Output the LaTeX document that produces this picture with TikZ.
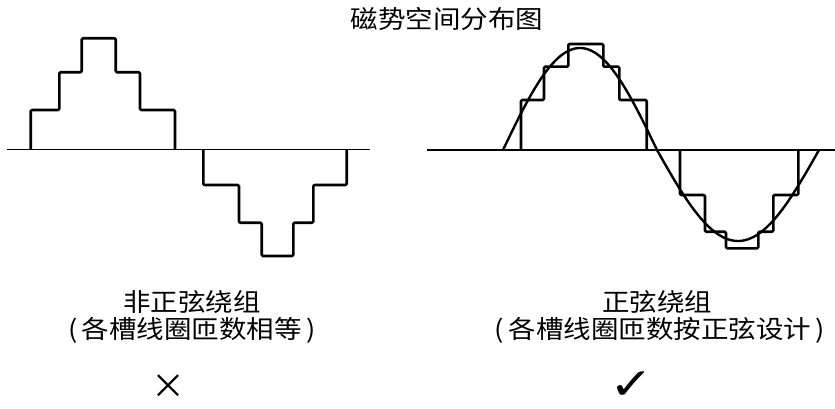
\documentclass[tikz,border=0pt]{standalone}
\usepackage{fontspec}
\newfontfamily\cjk{Noto Sans CJK SC}
\newfontfamily\sym{DejaVu Sans}
\begin{document}
\begin{tikzpicture}[x=1pt,y=-1pt,
  axisline/.style={line width=1.4pt},
  stepline/.style={line width=2.6pt,rounded corners=1.2pt,line join=round},
  sineline/.style={line width=2.4pt,line cap=round},
  cjktext/.style={font=\cjk\fontsize{25}{25}\selectfont,inner sep=0pt,xscale=1.1},
  marktext/.style={font=\cjk\fontsize{34}{34}\selectfont,inner sep=0pt},
  checktext/.style={font=\sym\fontsize{44}{44}\selectfont,inner sep=0pt,xscale=1.2}]
\useasboundingbox (0,0) rectangle (835,409);
% title
\node[cjktext] (title) at (447,19) {磁势空间分布图};
% left diagram
\coordinate (la) at (7,149.5);
\coordinate (lb) at (370,149.5);
\draw[axisline] (la) -- (lb);
\draw[stepline] (30.7,149.5) -- (30.7,110) -- (59.3,110) -- (59.3,72.3) -- (81.7,72.3) -- (81.7,38.3)
  -- (115.7,38.3) -- (115.7,72.3) -- (140,72.3) -- (140,110) -- (175,110) -- (175,149.5);
\draw[stepline] (203.3,149.5) -- (203.3,185) -- (239,185) -- (239,222.7) -- (261.7,222.7) -- (261.7,256)
  -- (293.3,256) -- (293.3,222.7) -- (313.3,222.7) -- (313.3,185) -- (346.7,185) -- (346.7,149.5);
% right diagram
\coordinate (ra) at (427,150);
\coordinate (rb) at (835,150);
\draw[axisline] (ra) -- (rb);
\draw[stepline] (521,150) -- (521,100) -- (544,100) -- (544,66.7) -- (568.3,66.7) -- (568.3,44)
  -- (603.3,44) -- (603.3,66.7) -- (619.3,66.7) -- (619.3,100) -- (646.7,100) -- (646.7,150);
\draw[stepline] (680,150) -- (680,195) -- (705,195) -- (705,231.7) -- (726,231.7) -- (726,248.3)
  -- (758.3,248.3) -- (758.3,231.7) -- (773.3,231.7) -- (773.3,195) -- (798.3,195) -- (798.3,150);
\draw[sineline] plot[domain=0:180,samples=60,smooth] ({503+\x/180*154},{150-102*sin(\x)})
  -- plot[domain=0:180,samples=60,smooth] ({657+\x/180*162},{150+91*sin(\x)});
% labels
\node[cjktext] (l1) at (192,302) {非正弦绕组};
\node[cjktext] (l2) at (192,330) {(\,各槽线圈匝数相等\,)};
\node[cjktext] (r1) at (657,302) {正弦绕组};
\node[cjktext] (r2) at (660,330) {(\,各槽线圈匝数按正弦设计\,)};
\node[marktext] (no) at (168,387) {×};
\node[checktext] (yes) at (632,386) {✓};
\end{tikzpicture}
\end{document}
